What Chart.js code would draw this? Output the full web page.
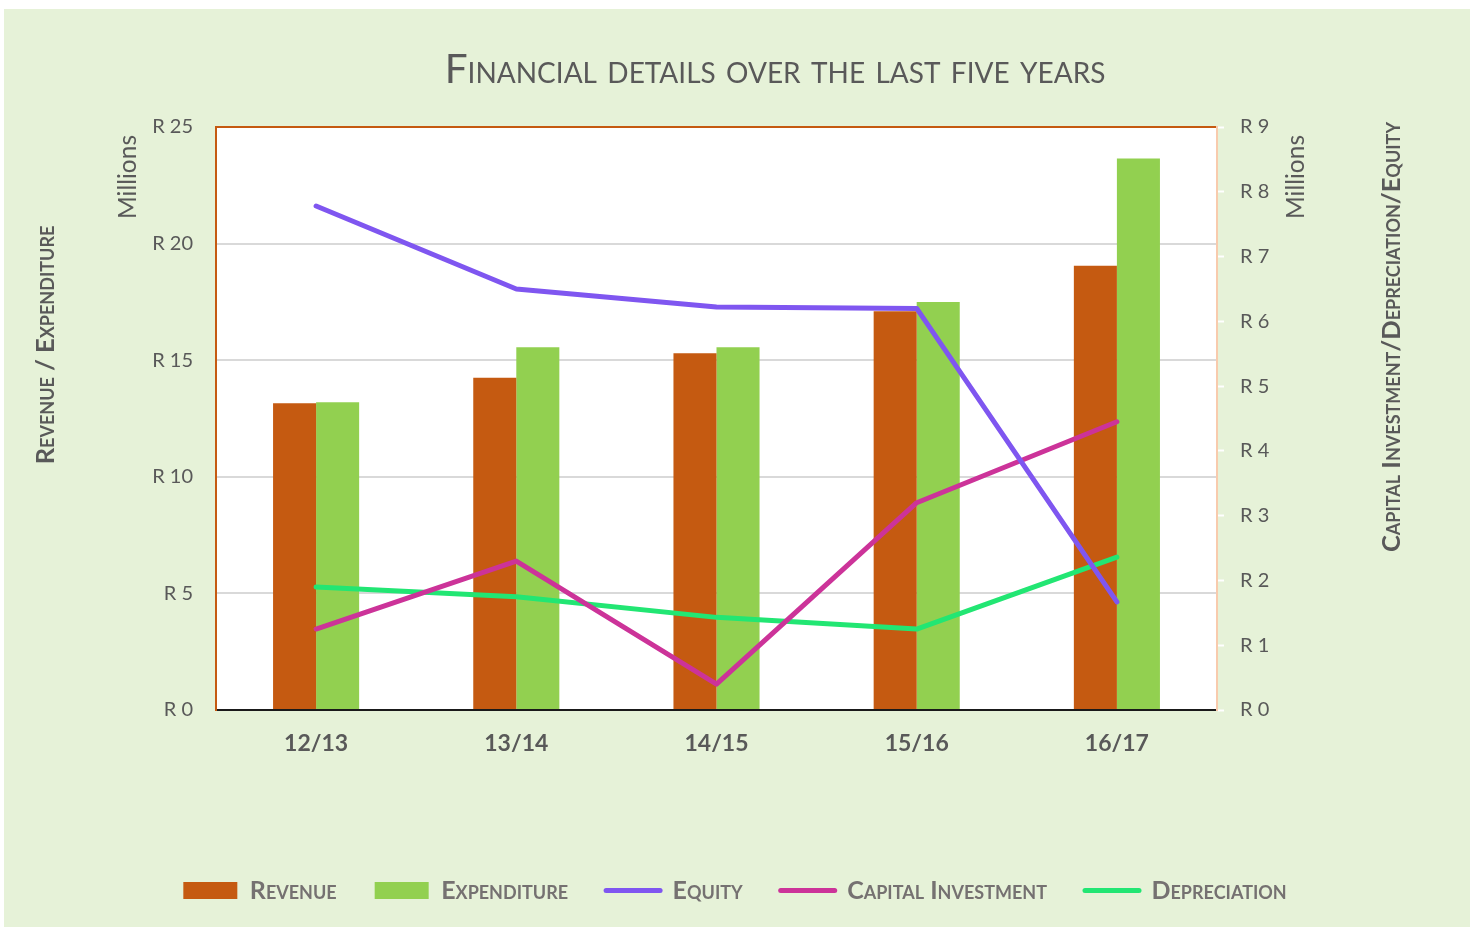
<!DOCTYPE html>
<html>
<head>
<meta charset="utf-8">
<title>Financial details over the last five years</title>
<script src="https://cdn.jsdelivr.net/npm/chart.js@4.4.0/dist/chart.umd.min.js"></script>
<style>
  html, body { margin: 0; padding: 0; background: #fff; }
  canvas { display: block; }
</style>
</head>
<body>
<canvas id="financeChart" width="1470" height="927"></canvas>
<script>
// values in millions of rand
const years = ['12/13', '13/14', '14/15', '15/16', '16/17'];
const revenue = [13.15, 14.25, 15.3, 17.1, 19.05];
const expenditure = [13.2, 15.55, 15.55, 17.5, 23.65];
const equity = [7.78, 6.5, 6.22, 6.2, 1.67];
const capitalInvestment = [1.25, 2.3, 0.4, 3.2, 4.45];
const depreciation = [1.9, 1.75, 1.43, 1.25, 2.36];

const leftTicks = [0, 5, 10, 15, 20, 25];
const rightTicks = [0, 1, 2, 3, 4, 5, 6, 7, 8, 9];

const FONT = 'Lato';
const TEXT_GREY = '#595959';

function drawText(ctx, text, x, y, font, color, rotate) {
    ctx.save();
    ctx.translate(x, y);
    if (rotate) ctx.rotate(rotate);
    ctx.font = font;
    ctx.fillStyle = color;
    ctx.textAlign = 'center';
    ctx.textBaseline = 'middle';
    ctx.fillText(text, 0, 0);
    ctx.restore();
}

// background, plot fill and the free-floating labels Excel puts around the chart
const decorations = {
    id: 'decorations',
    beforeDraw(chart) {
        const ctx = chart.ctx, a = chart.chartArea;
        ctx.save();
        ctx.fillStyle = '#e6f2d8';
        ctx.fillRect(4, 9, chart.width - 4, chart.height - 9);
        ctx.fillStyle = '#ffffff';
        ctx.fillRect(a.left, a.top, a.right - a.left, a.bottom - a.top);
        ctx.restore();
    },
    afterDraw(chart) {
        const ctx = chart.ctx;
        drawText(ctx, 'Financial details over the last five years', 775, 70,
            `small-caps 400 40.5px ${FONT}`, TEXT_GREY);
        drawText(ctx, 'Revenue / Expenditure', 46, 345,
            `small-caps 700 25.5px ${FONT}`, TEXT_GREY, -Math.PI / 2);
        drawText(ctx, 'Capital Investment/Depreciation/Equity', 1392, 337,
            `small-caps 700 25.5px ${FONT}`, TEXT_GREY, -Math.PI / 2);
        drawText(ctx, 'Millions', 128, 177, `400 24.5px ${FONT}`, TEXT_GREY, -Math.PI / 2);
        drawText(ctx, 'Millions', 1296, 177, `400 24.5px ${FONT}`, TEXT_GREY, -Math.PI / 2);
    }
};

new Chart(document.getElementById('financeChart'), {
    type: 'bar',
    data: {
        labels: years,
        datasets: [
            { label: 'Revenue', data: revenue, backgroundColor: '#c55a11', yAxisID: 'y', order: 2 },
            { label: 'Expenditure', data: expenditure, backgroundColor: '#92d050', yAxisID: 'y', order: 2 },
            { type: 'line', label: 'Equity', data: equity, borderColor: '#7f56f0', yAxisID: 'y1', order: 1 },
            { type: 'line', label: 'Capital Investment', data: capitalInvestment, borderColor: '#cc3399', yAxisID: 'y1', order: 1 },
            { type: 'line', label: 'Depreciation', data: depreciation, borderColor: '#22e673', yAxisID: 'y1', order: 1 }
        ]
    },
    options: {
        responsive: false,
        animation: false,
        layout: { padding: { top: 127, left: 0, right: 0, bottom: 14 } },
        datasets: {
            bar: { categoryPercentage: 0.43, barPercentage: 1, borderWidth: 0 },
            line: { borderWidth: 5, pointRadius: 0, tension: 0, borderCapStyle: 'round', borderJoinStyle: 'round', fill: false }
        },
        scales: {
            x: {
                grid: { display: false, drawTicks: false },
                border: { color: '#1a1a1a', width: 2 },
                ticks: { color: TEXT_GREY, padding: 20, font: { family: FONT, size: 23, weight: 'bold' } },
                afterFit(scale) { scale.height = 130; }
            },
            y: {
                position: 'left',
                min: 0, max: 25,
                afterBuildTicks(scale) { scale.ticks = leftTicks.map(v => ({ value: v })); },
                grid: {
                    drawTicks: false,
                    lineWidth: 2,
                    color: ctx => ctx.tick && ctx.tick.value === 25 ? '#c55a11' : '#d9d9d9'
                },
                border: { color: '#c55a11', width: 2 },
                ticks: { color: TEXT_GREY, padding: 23, font: { family: FONT, size: 20 }, callback: v => 'R ' + v },
                afterFit(scale) { scale.width = 216; }
            },
            y1: {
                position: 'right',
                min: 0, max: 9,
                afterBuildTicks(scale) { scale.ticks = rightTicks.map(v => ({ value: v })); },
                grid: { drawOnChartArea: false, drawTicks: true, tickLength: 7, tickColor: '#ffffff', tickWidth: 2 },
                border: { color: '#f8cbad', width: 2 },
                ticks: { color: TEXT_GREY, padding: 16, font: { family: FONT, size: 20 }, callback: v => 'R ' + v },
                afterFit(scale) { scale.width = 253; }
            }
        },
        plugins: {
            title: { display: false },
            tooltip: { enabled: false },
            legend: {
                position: 'bottom',
                labels: {
                    color: '#757171',
                    font: { family: FONT, size: 25, weight: 'small-caps 700' },
                    boxWidth: 52,
                    boxHeight: 17,
                    padding: 38,
                    usePointStyle: true,
                    pointStyleWidth: 54,
                    sort: (a, b) => a.datasetIndex - b.datasetIndex,
                    generateLabels(chart) {
                        const items = Chart.defaults.plugins.legend.labels.generateLabels(chart);
                        items.forEach(item => {
                            const ds = chart.data.datasets[item.datasetIndex];
                            if (ds.type === 'line') {
                                item.pointStyle = 'line';
                                item.lineWidth = 5;
                                item.lineCap = 'round';
                            } else {
                                item.pointStyle = 'rect';
                                item.lineWidth = 0;
                            }
                        });
                        return items;
                    }
                }
            }
        }
    },
    plugins: [decorations]
});
</script>
</body>
</html>
